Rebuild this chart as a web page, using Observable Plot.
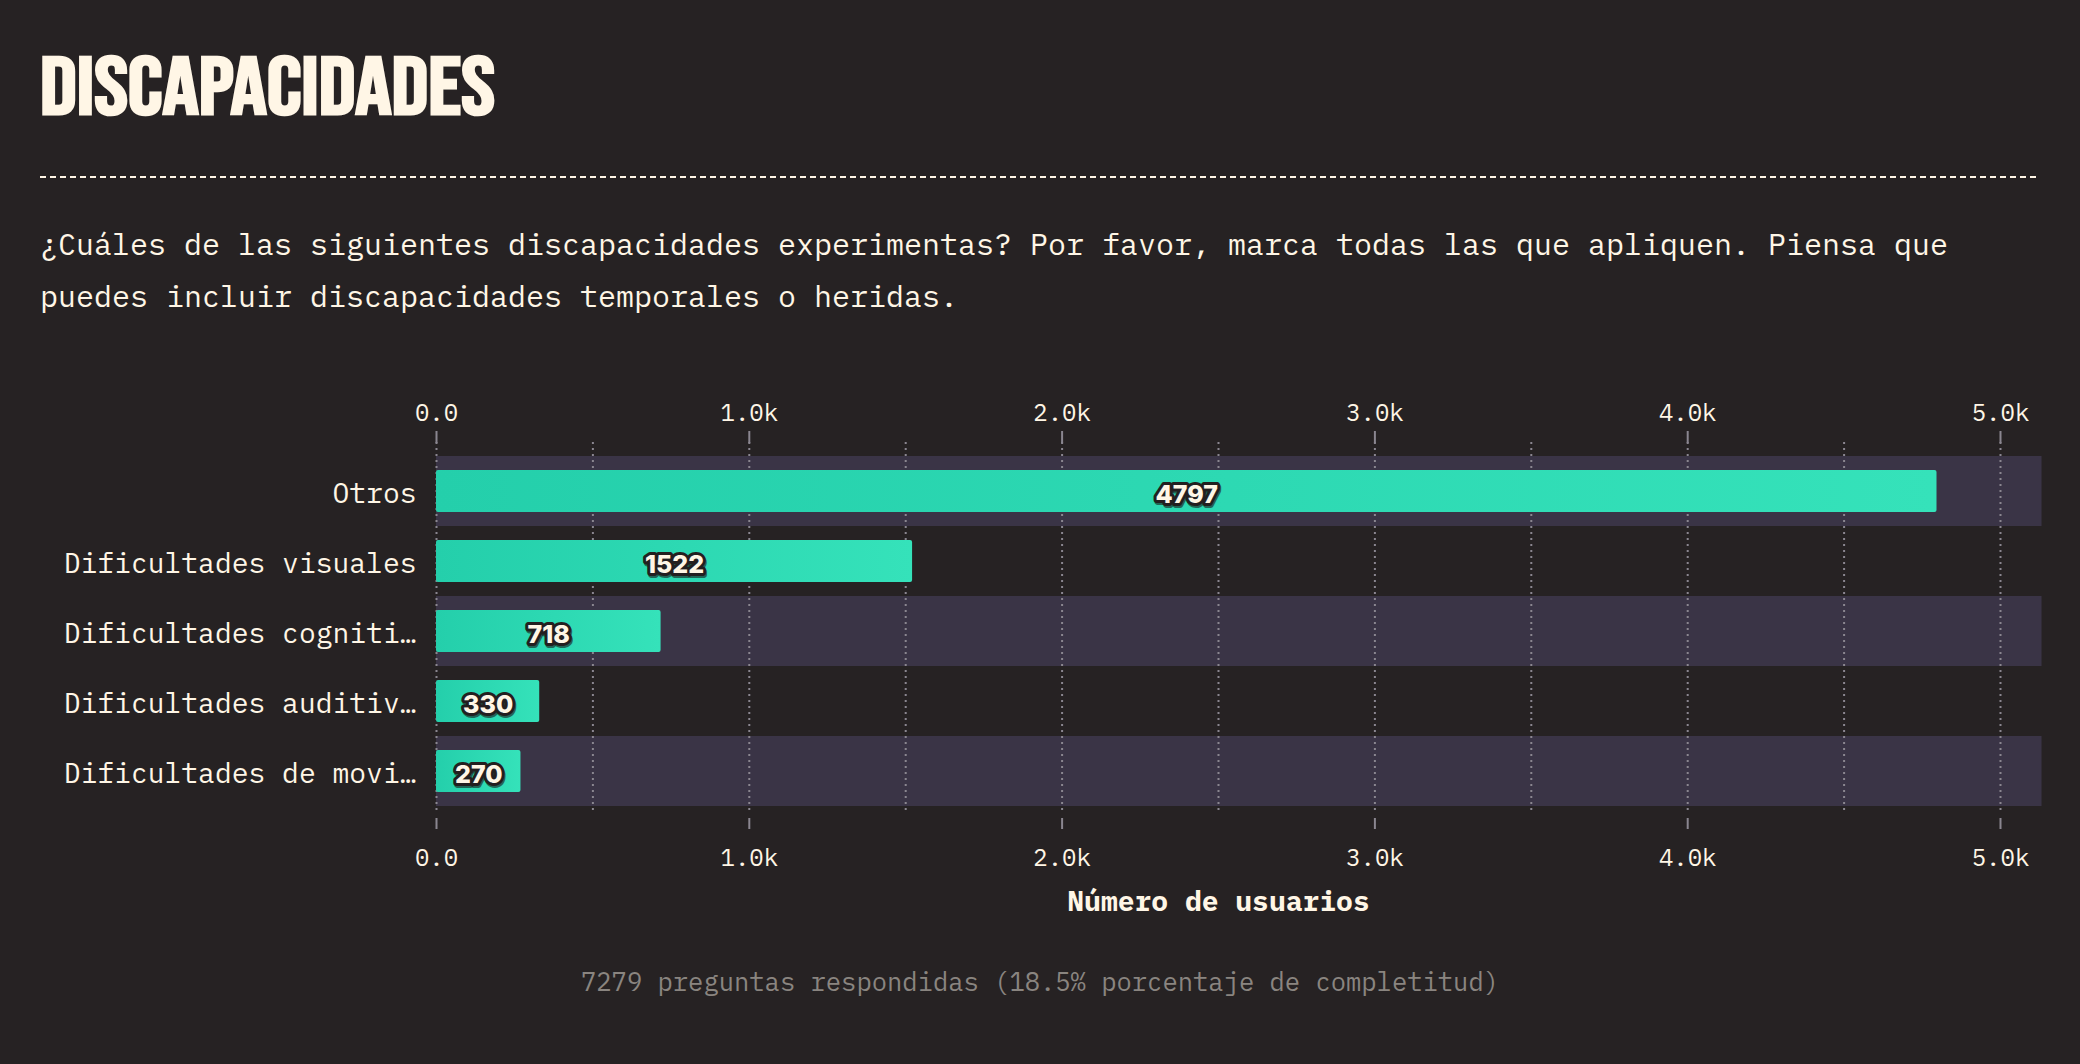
<!DOCTYPE html>
<html>
<head>
<meta charset="utf-8">
<script src="https://cdn.jsdelivr.net/npm/d3@7"></script>
<script src="https://cdn.jsdelivr.net/npm/@observablehq/plot@0.6"></script>
<style>
html, body { margin: 0; padding: 0; background: #262223; }
#root { position: relative; width: 2080px; height: 1064px; background: #262223; overflow: hidden;
  font-family: "IBM Plex Mono", "DejaVu Sans Mono", monospace; color: #fff6e6; }
#title { position: absolute; left: 0; top: 0; }
#rule { position: absolute; left: 40px; top: 176px; width: 2000px; height: 2px;
  background: repeating-linear-gradient(90deg, #fff6e6 0 6px, transparent 6px 10px); }
#subtitle { position: absolute; left: 40px; top: 218px; width: 2000px; font-size: 30px; line-height: 52px; }
#chart { position: absolute; left: 0; top: 380px; }
#caption { position: absolute; left: 0; width: 2080px; top: 966px; text-align: center;
  font-size: 25.5px; line-height: 32px; color: #8a8580; }
</style>
</head>
<body>
<div id="root">
  <svg id="title" width="2080" height="140">
    <text x="40" y="114" fill="#fff6e6" font-family="'Bebas Neue', 'DejaVu Sans Condensed', 'DejaVu Sans', sans-serif"
      font-weight="bold" font-size="82" textLength="455" lengthAdjust="spacingAndGlyphs">DISCAPACIDADES</text>
  </svg>
  <div id="rule"></div>
  <div id="subtitle">¿Cuáles de las siguientes discapacidades experimentas? Por favor, marca todas las que apliquen. Piensa que puedes incluir discapacidades temporales o heridas.</div>
  <div id="chart"></div>
  <div id="caption">7279 preguntas respondidas (18.5% porcentaje de completitud)</div>
</div>
<script>
const categories = [
  "Otros",
  "Dificultades visuales",
  "Dificultades cognitivas",
  "Dificultades auditivas",
  "Dificultades de movilidad"
];
const counts = [4797, 1522, 718, 330, 270];
const xLabel = "Número de usuarios";

const data = categories.map((c, i) => ({category: c, count: counts[i]}));
const bandRows = categories.filter((c, i) => i % 2 === 0);
const xMax = d3.max(counts) * 1.07;
const fmt = d3.format(".2s");
const trunc = s => s.length > 21 ? s.slice(0, 20) + "…" : s;

const cream = "#fff6e6";
const mono = "'IBM Plex Mono', 'DejaVu Sans Mono', monospace";

const defs = () => {
  const ns = "http://www.w3.org/2000/svg";
  const d = document.createElementNS(ns, "defs");
  d.innerHTML = '<linearGradient id="barGrad" x1="0" x2="1" y1="0" y2="0">' +
    '<stop offset="0" stop-color="#24cfab"/><stop offset="1" stop-color="#35e2ba"/></linearGradient>';
  return d;
};

const plot = Plot.plot({
  width: 2080,
  height: 560,
  marginTop: 62,
  marginBottom: 126,
  marginLeft: 436,
  marginRight: 80,
  style: {background: "transparent", color: cream, fontFamily: mono, overflow: "visible"},
  x: {domain: [0, 5000]},
  y: {domain: categories, padding: 0, insetTop: 14, insetBottom: 8},
  marks: [
    defs,
    Plot.barX(bandRows, {x1: 0, x2: xMax, y: d => d, fill: "#3a3446"}),
    Plot.gridX({ticks: 10, stroke: "#8a8690", strokeOpacity: 1, strokeWidth: 2, strokeDasharray: "2,4"}),
    Plot.barX(data, {x: "count", y: "category", fill: "url(#barGrad)", insetTop: 14, insetBottom: 14, rx: 2}),
    Plot.axisX({anchor: "top", ticks: 5, tickFormat: fmt, tickSize: 12, tickPadding: 10, fontSize: 24,
      stroke: "#8a8690", strokeWidth: 2, fill: cream, label: null}),
    Plot.axisX({anchor: "bottom", ticks: 5, tickFormat: fmt, tickSize: 11, tickPadding: 19, dy: 4, fontSize: 24,
      stroke: "#8a8690", strokeWidth: 2, fill: cream, label: null}),
    Plot.axisY({tickSize: 0, tickPadding: 20, tickFormat: trunc, fontSize: 28, fill: cream, label: null, dy: 3}),
    Plot.text(data, {x: d => d.count / 2, y: "category", text: d => String(d.count), dx: 1, dy: 5,
      fill: "#1a1718", stroke: "#1a1718", strokeWidth: 6, fontSize: 25, fontWeight: 800,
      fontFamily: "Inter, 'Liberation Sans', sans-serif", strokeOpacity: 0.6, fillOpacity: 0.6}),
    Plot.text(data, {x: d => d.count / 2, y: "category", text: d => String(d.count), dy: 3,
      fill: cream, stroke: "#231f20", strokeWidth: 6, paintOrder: "stroke", fontSize: 25, fontWeight: 800,
      fontFamily: "Inter, 'Liberation Sans', sans-serif"}),
    Plot.text([xLabel], {frameAnchor: "bottom", text: d => d, dy: 88, lineAnchor: "middle",
      fontSize: 28, fontWeight: "bold", fill: cream})
  ]
});
document.getElementById("chart").appendChild(plot);
</script>
</body>
</html>
